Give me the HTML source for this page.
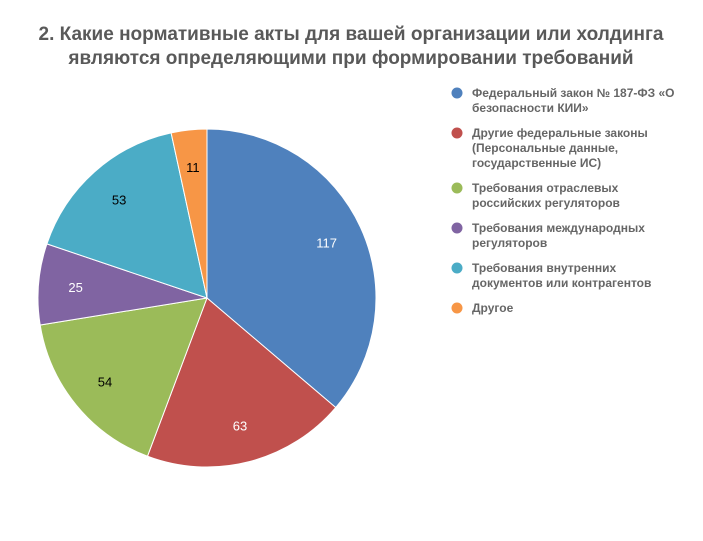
<!DOCTYPE html>
<html><head><meta charset="utf-8">
<style>
body{margin:0;background:#fff;}
svg{display:block;font-family:"Liberation Sans","DejaVu Sans",sans-serif;}
</style></head>
<body>
<svg id="chart" width="703" height="541" viewBox="0 0 703 541">
<rect width="703" height="541" fill="#fff"/>
<text x="351" y="40" text-anchor="middle" font-size="19" font-weight="bold" fill="#595959">2. Какие нормативные акты для вашей организации или холдинга</text>
<text x="351" y="64" text-anchor="middle" font-size="19" font-weight="bold" fill="#595959">являются определяющими при формировании требований</text>
<g id="slices"></g>
<g id="labels"></g>
<g id="legend"></g>
</svg>
<script>
const categories = [
  ["Федеральный закон № 187-ФЗ «О","безопасности КИИ»"],
  ["Другие федеральные законы","(Персональные данные,","государственные ИС)"],
  ["Требования отраслевых","российских регуляторов"],
  ["Требования международных","регуляторов"],
  ["Требования внутренних","документов или контрагентов"],
  ["Другое"]
];
const values = [117, 63, 54, 25, 53, 11];
const colors = ["#4f81bd","#c0504d","#9bbb59","#8064a2","#4bacc6","#f79646"];
const labelColors = ["#fff","#fff","#000","#fff","#000","#000"];

const NS = "http://www.w3.org/2000/svg";
const cx = 207, cy = 298, r = 169;
const total = values.reduce((a,b)=>a+b,0);
const slices = document.getElementById("slices");
const labels = document.getElementById("labels");
const legend = document.getElementById("legend");
function pt(a, rr){ return [cx + rr*Math.sin(a), cy - rr*Math.cos(a)]; }
let acc = 0;
values.forEach((v,i)=>{
  const a0 = acc/total*2*Math.PI; acc += v;
  const a1 = acc/total*2*Math.PI;
  const p0 = pt(a0,r), p1 = pt(a1,r);
  const large = (a1-a0) > Math.PI ? 1 : 0;
  const path = document.createElementNS(NS,"path");
  path.setAttribute("d",`M${cx},${cy} L${p0[0]},${p0[1]} A${r},${r} 0 ${large} 1 ${p1[0]},${p1[1]} Z`);
  path.setAttribute("fill",colors[i]);
  path.setAttribute("stroke","#fff");
  path.setAttribute("stroke-width","1");
  
  
  slices.appendChild(path);
  const lp = pt((a0+a1)/2, r*0.78);
  const t = document.createElementNS(NS,"text");
  t.setAttribute("x",lp[0]); t.setAttribute("y",lp[1]+5);
  t.setAttribute("text-anchor","middle");
  t.setAttribute("font-size","13");
  t.setAttribute("fill",labelColors[i]);
  t.textContent = v;
  
  
  labels.appendChild(t);
});
let y = 97;
categories.forEach((lines,i)=>{
  const g = document.createElementNS(NS,"g");
  
  
  const c = document.createElementNS(NS,"circle");
  c.setAttribute("cx",457); c.setAttribute("cy",y-4); c.setAttribute("r",5.5);
  c.setAttribute("fill",colors[i]);
  g.appendChild(c);
  lines.forEach((ln,j)=>{
    const t = document.createElementNS(NS,"text");
    t.setAttribute("x",472); t.setAttribute("y",y+j*15);
    t.setAttribute("font-size","12"); t.setAttribute("font-weight","bold");
    t.setAttribute("fill","#666");
    t.textContent = ln;
    g.appendChild(t);
  });
  legend.appendChild(g);
  y += lines.length*15 + 10;
});
</script>
</body></html>
